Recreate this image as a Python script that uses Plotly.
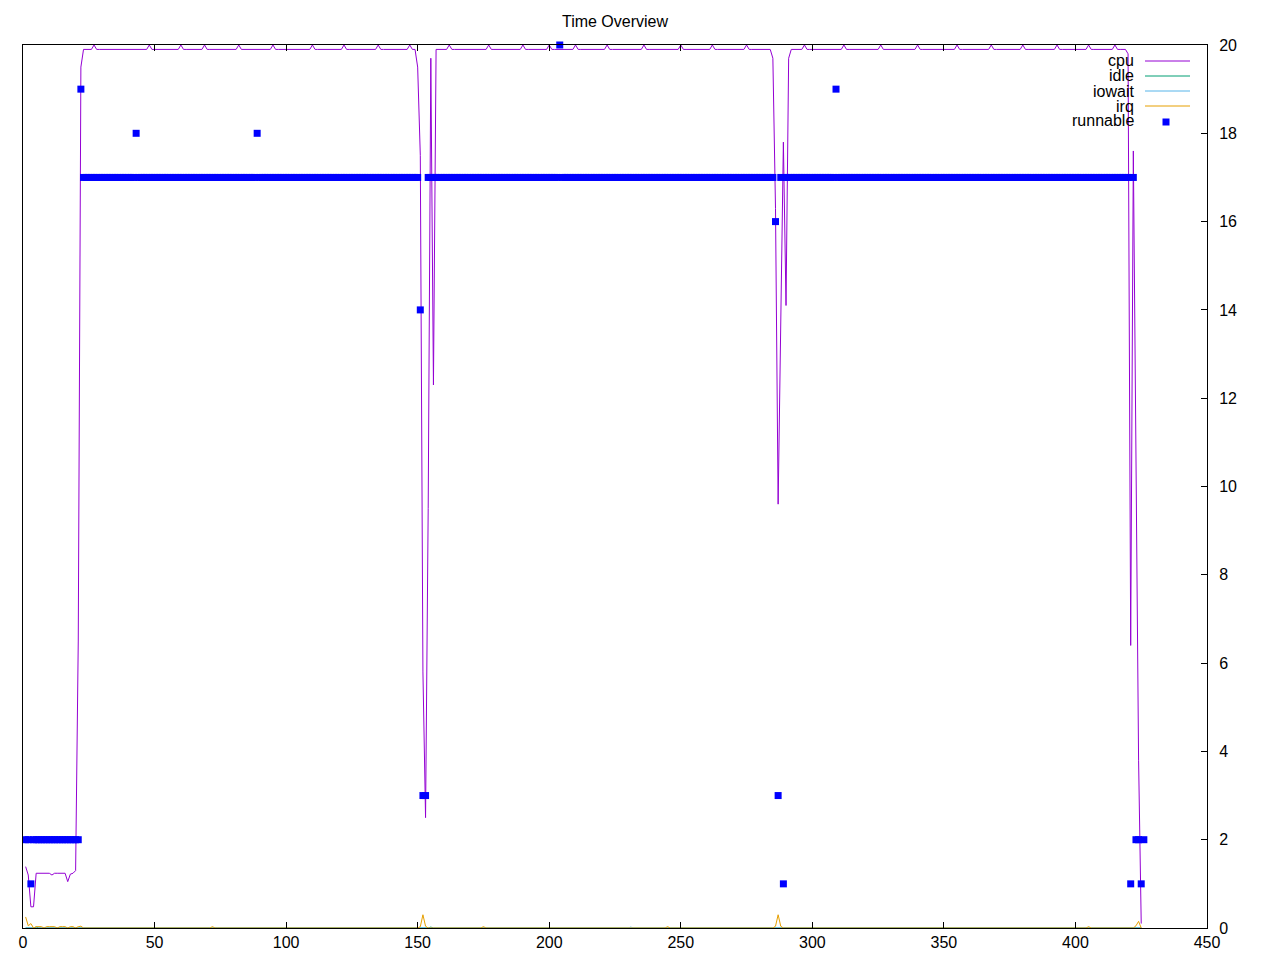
import plotly.graph_objects as go

# ---------------- data ----------------
X_FIRST, X_LAST = 1, 425           # cpu / idle / iowait / irq sample range
RUN_LAST = 426                     # runnable sample range ends one later

# cpu: start ramp (x = 1..22)
cpu_start = [1.39, 1.20, 0.48, 0.48, 1.24, 1.24, 1.24, 1.24, 1.24, 1.24,
             1.20, 1.24, 1.24, 1.24, 1.24, 1.24, 1.05, 1.22, 1.24, 1.30,
             6.5, 19.5]
cpu_plateau = 19.9
cpu_bumps = [27, 48, 60, 69, 82, 95, 110, 122, 135, 147, 162, 177, 190,
             200, 210, 222, 236, 250, 262, 275, 297, 312, 326, 340, 355,
             368, 380, 393, 405, 415]
cpu_bump_value = 20.0
cpu_dip1 = {150: 19.5, 151: 17.5, 152: 5.8, 153: 2.5, 154: 9.5, 155: 19.7, 156: 12.3}
cpu_dip2 = {285: 19.7, 286: 16.3, 287: 9.6, 288: 13.3, 289: 17.8, 290: 14.1, 291: 19.7}
cpu_end = {420: 19.8, 421: 6.4, 422: 17.6, 423: 10.5, 424: 3.8, 425: 0.1}

idle_nonzero = {5: 0.02, 155: 0.02}
iowait_nonzero = {231: 0.02}
irq_nonzero = {1: 0.25, 2: 0.05, 3: 0.10, 5: 0.03, 6: 0.03, 7: 0.03, 9: 0.03,
               10: 0.03, 11: 0.03, 12: 0.03, 14: 0.03, 15: 0.03, 16: 0.03,
               18: 0.03, 19: 0.03, 21: 0.03, 22: 0.04, 72: 0.03, 151: 0.03,
               152: 0.30, 153: 0.04, 175: 0.03, 245: 0.03, 286: 0.04,
               287: 0.30, 288: 0.04, 405: 0.03, 423: 0.05, 424: 0.15}

run_start = [2, 2, 1, 2, 2, 2, 2, 2, 2, 2, 2, 2, 2, 2, 2, 2, 2, 2, 2, 2, 2, 19]  # x = 1..22
run_base = 17
run_changes = {43: 18, 89: 18, 151: 14, 152: 3, 153: 3, 204: 20, 286: 16,
               287: 3, 289: 1, 309: 19, 421: 1, 423: 2, 424: 2, 425: 1, 426: 2}

x_ticks = [0, 50, 100, 150, 200, 250, 300, 350, 400, 450]
y_ticks = [0, 2, 4, 6, 8, 10, 12, 14, 16, 18, 20]

# ---------------- assemble series ----------------
xs = list(range(X_FIRST, X_LAST + 1))
cpu = []
for x in xs:
    if x - X_FIRST < len(cpu_start):
        v = cpu_start[x - X_FIRST]
    elif x in cpu_dip1:
        v = cpu_dip1[x]
    elif x in cpu_dip2:
        v = cpu_dip2[x]
    elif x in cpu_end:
        v = cpu_end[x]
    elif x in cpu_bumps:
        v = cpu_bump_value
    else:
        v = cpu_plateau
    cpu.append(v)

idle = [idle_nonzero.get(x, 0.0) for x in xs]
iowait = [iowait_nonzero.get(x, 0.0) for x in xs]
irq = [irq_nonzero.get(x, 0.0) for x in xs]

run_x = list(range(X_FIRST, RUN_LAST + 1))
runnable = []
for x in run_x:
    if x - X_FIRST < len(run_start):
        runnable.append(run_start[x - X_FIRST])
    else:
        runnable.append(run_changes.get(x, run_base))

# ---------------- figure ----------------
C_CPU, C_IDLE, C_IOW, C_IRQ, C_RUN = "#9400d3", "#009e73", "#56b4e9", "#e69f00", "#0000ff"
FONT = "Liberation Sans"

fig = go.Figure()
fig.add_trace(go.Scatter(x=xs, y=cpu, mode="lines", name="cpu",
                         line=dict(color=C_CPU, width=1)))
fig.add_trace(go.Scatter(x=xs, y=idle, mode="lines", name="idle",
                         line=dict(color=C_IDLE, width=1)))
fig.add_trace(go.Scatter(x=xs, y=iowait, mode="lines", name="iowait",
                         line=dict(color=C_IOW, width=1)))
fig.add_trace(go.Scatter(x=xs, y=irq, mode="lines", name="irq",
                         line=dict(color=C_IRQ, width=1)))
fig.add_trace(go.Scatter(x=run_x, y=runnable, mode="markers", name="runnable",
                         marker=dict(symbol="square", size=7, color=C_RUN,
                                     line=dict(width=0)),
                         cliponaxis=False))

# gnuplot-style key: right-aligned text, sample to its right
W, H = 1280, 960
L, R, T, B = 23, 73, 45, 32
PW, PH = W - L - R, H - T - B


def px_x(p):
    return (p - L) / PW


def px_y(p):
    return (H - B - p) / PH


key_names = ["cpu", "idle", "iowait", "irq", "runnable"]
key_colors = [C_CPU, C_IDLE, C_IOW, C_IRQ, C_RUN]
key_y = [61, 76, 91, 106, 121]
annotations = []
shapes = []
for name, col, ky in zip(key_names, key_colors, key_y):
    annotations.append(dict(text=name, xref="paper", yref="paper",
                            x=px_x(1136), y=px_y(ky), xanchor="right",
                            yanchor="middle", showarrow=False,
                            font=dict(family=FONT, size=16, color="#000000")))
    if name == "runnable":
        shapes.append(dict(type="rect", xref="paper", yref="paper",
                           xsizemode="pixel", ysizemode="pixel",
                           xanchor=px_x(1166), yanchor=px_y(ky + 1),
                           x0=-3.5, x1=3.5, y0=-3.5, y1=3.5,
                           fillcolor=col, line=dict(width=0)))
    else:
        shapes.append(dict(type="line", xref="paper", yref="paper",
                           x0=px_x(1145), x1=px_x(1190),
                           y0=px_y(ky), y1=px_y(ky),
                           line=dict(color=col, width=1)))

fig.update_layout(
    width=W, height=H,
    margin=dict(l=L, r=R, t=T, b=B, pad=0, autoexpand=False),
    paper_bgcolor="#ffffff", plot_bgcolor="#ffffff",
    font=dict(family=FONT, size=16, color="#000000"),
    title=dict(text="Time Overview", x=0.5, xref="paper", y=1 - 21 / H,
               yanchor="middle", xanchor="center", automargin=False,
               font=dict(family=FONT, size=16, color="#000000")),
    showlegend=False,
    annotations=annotations,
    shapes=shapes,
    xaxis=dict(range=[0, 450], tickvals=x_ticks, ticktext=[str(v) for v in x_ticks],
               ticks="inside", ticklen=6, tickcolor="#000000", tickwidth=1,
               showline=True, linecolor="#000000", linewidth=1, mirror="ticks",
               showgrid=False, zeroline=False, automargin=False,
               tickfont=dict(family=FONT, size=16, color="#000000")),
    yaxis=dict(range=[0, 20], tickvals=y_ticks, ticktext=[str(v) for v in y_ticks],
               side="right", ticks="inside", ticklen=6, tickcolor="#000000",
               tickwidth=1, showline=True, linecolor="#000000", linewidth=1,
               mirror=True, showgrid=False, zeroline=False, ticklabelstandoff=8,
               automargin=False,
               tickfont=dict(family=FONT, size=16, color="#000000")),
)

fig.write_html("out.html",
               config={"displayModeBar": False},
               post_script="document.body.style.margin='0px';document.body.style.overflow='hidden';")
